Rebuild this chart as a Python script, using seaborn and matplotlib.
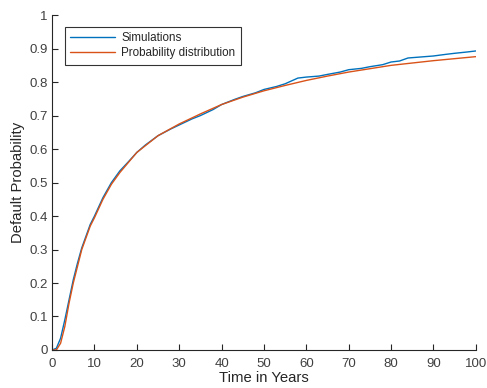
import matplotlib
matplotlib.use("Agg")
import matplotlib.pyplot as plt
import seaborn as sns
import pandas as pd

# probability distribution (smooth curve)
t_dist = [0, 1, 2, 3, 4, 5, 6, 7, 8, 9, 10, 12, 14, 16, 18, 20, 25, 30, 35, 40,
          45, 50, 55, 60, 65, 70, 75, 80, 85, 90, 95, 100]
p_dist = [0, 0.0, 0.02, 0.07, 0.14, 0.2, 0.25, 0.3, 0.335, 0.37, 0.395, 0.45,
          0.495, 0.53, 0.56, 0.59, 0.64, 0.675, 0.705, 0.733, 0.755, 0.774, 0.79,
          0.805, 0.818, 0.83, 0.84, 0.85, 0.857, 0.864, 0.87, 0.876]

# simulated default probability
t_sim = [0, 1, 2, 3, 4, 5, 6, 7, 8, 9, 10, 12, 14, 16, 18, 20, 22, 25, 28, 30,
         33, 35, 38, 40, 43, 45, 48, 50, 53, 55, 58, 60, 63, 65, 68, 70, 73, 75,
         78, 80, 82, 84, 86, 88, 90, 93, 95, 98, 100]
p_sim = [0, 0.005, 0.035, 0.09, 0.15, 0.21, 0.26, 0.305, 0.34, 0.375, 0.40,
         0.455, 0.50, 0.535, 0.562, 0.59, 0.612, 0.64, 0.66, 0.672, 0.69, 0.70,
         0.718, 0.733, 0.748, 0.757, 0.768, 0.778, 0.787, 0.795, 0.812, 0.815,
         0.818, 0.823, 0.83, 0.837, 0.841, 0.846, 0.852, 0.86, 0.863, 0.872,
         0.874, 0.876, 0.878, 0.883, 0.886, 0.89, 0.893]

sim = pd.DataFrame({"t": t_sim, "p": p_sim, "series": "Simulations"})
dist = pd.DataFrame({"t": t_dist, "p": p_dist, "series": "Probability distribution"})
df = pd.concat([sim, dist], ignore_index=True)

sns.set_style("white")
plt.rcParams["font.family"] = ["Liberation Sans", "DejaVu Sans"]

fig = plt.figure(figsize=(4.87, 3.88), dpi=100)
ax = fig.add_axes([0.107, 0.098, 0.87, 0.863])

sns.lineplot(data=df, x="t", y="p", hue="series",
             palette={"Simulations": "#0072BD", "Probability distribution": "#D95319"},
             linewidth=1.0, ax=ax, estimator=None, sort=False)

ax.set_xlim(0, 100)
ax.set_ylim(0, 1)
ax.set_xticks(range(0, 101, 10))
ax.set_yticks([i / 10 for i in range(11)])
ax.set_yticklabels(["0", "0.1", "0.2", "0.3", "0.4", "0.5", "0.6", "0.7", "0.8", "0.9", "1"])
ax.tick_params(bottom=True, left=True, direction="in", length=4, width=0.8,
               labelsize=9.5, colors="#262626", labelcolor="#404040", pad=3)
ax.tick_params(axis="x", pad=6)
for side in ["top", "right"]:
    ax.spines[side].set_visible(False)
for side in ["left", "bottom"]:
    ax.spines[side].set_color("#262626")
    ax.spines[side].set_linewidth(0.8)

ax.set_xlabel("Time in Years", fontsize=10.7, color="#262626", labelpad=0.5)
ax.set_ylabel("Default Probability", fontsize=10.7, color="#262626", labelpad=3)

leg = ax.legend(loc="upper left", bbox_to_anchor=(0.031, 0.964), borderaxespad=0,
                fontsize=8.4, frameon=True, fancybox=False, edgecolor="black",
                handlelength=3.8, borderpad=0.45, labelspacing=0.25,
                handletextpad=0.55)
leg.get_frame().set_linewidth(0.8)
leg.set_title(None)

fig.savefig("out.png", dpi=100)
